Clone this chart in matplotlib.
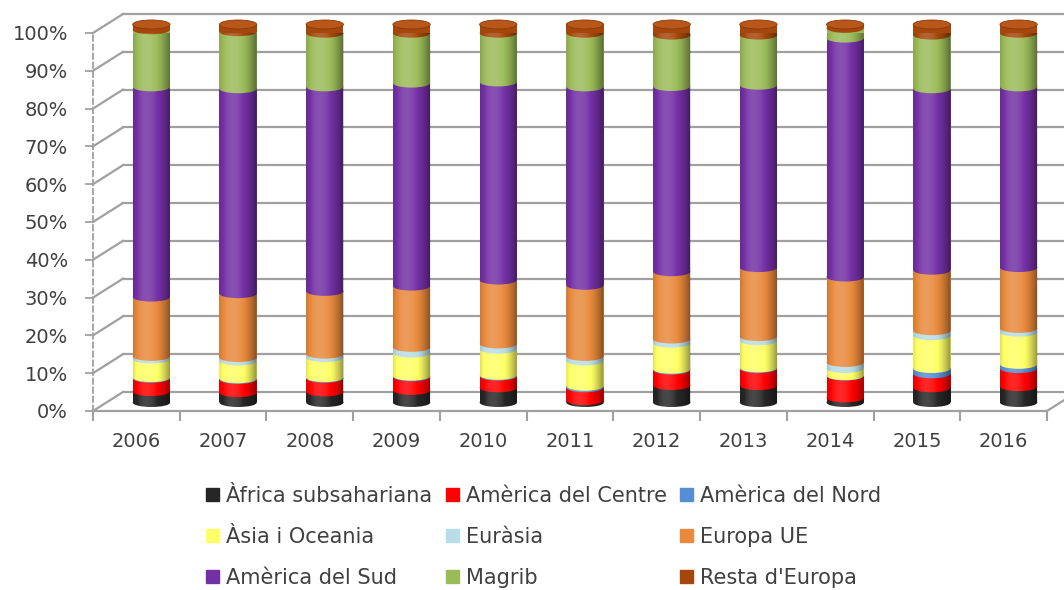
import matplotlib
matplotlib.use("Agg")
import matplotlib.pyplot as plt
import numpy as np
from matplotlib import transforms
from matplotlib.patches import Ellipse, Patch
from matplotlib.path import Path

years = ["2006", "2007", "2008", "2009", "2010", "2011",
         "2012", "2013", "2014", "2015", "2016"]

series = ["Àfrica subsahariana", "Amèrica del Centre", "Amèrica del Nord",
          "Àsia i Oceania", "Euràsia", "Europa UE",
          "Amèrica del Sud", "Magrib", "Resta d'Europa"]

africa = [2.9, 2.6, 2.8, 3.2, 3.9, 0.5, 4.5, 4.5, 1.2, 3.9, 4.2]
centre = [3.5, 3.5, 3.6, 3.6, 3.1, 3.4, 4.1, 4.5, 5.8, 3.7, 4.8]
nord = [0.2, 0.2, 0.2, 0.2, 0.2, 0.4, 0.2, 0.2, 0.1, 1.4, 1.1]
asia = [4.9, 4.7, 5.3, 6.1, 6.9, 6.7, 6.9, 7.2, 1.9, 8.7, 8.5]
eurasia = [0.7, 0.9, 0.9, 1.5, 1.4, 1.2, 1.1, 1.1, 1.6, 1.3, 1.0]
europa_ue = [15.7, 16.9, 16.6, 16.2, 16.9, 18.8, 17.8, 18.3, 22.6, 16.0, 16.1]
sud = [55.6, 54.2, 54.1, 53.7, 52.4, 52.5, 49.0, 48.4, 63.2, 48.0, 47.8]
magrib = [15.1, 15.1, 14.2, 13.2, 12.9, 14.2, 13.6, 13.3, 2.6, 14.2, 14.2]
resta = [1.4, 1.9, 2.3, 2.3, 2.3, 2.3, 2.8, 2.8, 1.0, 2.8, 2.3]

colors = ["#262626", "#ff0000", "#558ed5", "#ffff66", "#b7dde8",
          "#e8893c", "#7330a5", "#9bbb59", "#a5470c"]

values = np.array([africa, centre, nord, asia, eurasia, europa_ue,
                   sud, magrib, resta])
# normalise each year to 100%
values = values / values.sum(axis=0) * 100

text_color = "#404040"
grid_color = "#a0a0a0"
plt.rcParams["font.family"] = ["DejaVu Sans"]

fig = plt.figure(figsize=(10.64, 5.9), dpi=100)
ax = fig.add_axes([0.0874, 0.3034, 0.8966, 0.6407])
x = np.arange(len(years))
ax.set_xlim(-0.5, 10.5)
ax.set_ylim(0, 100)

# 3d depth: back wall offset and bar offset (in pixels)
back_tr = transforms.offset_copy(ax.transData, fig=fig, x=30, y=19, units="dots")
bar_tr = transforms.offset_copy(ax.transData, fig=fig, x=15, y=8.5, units="dots")

# walls
for v in range(0, 101, 10):
    ax.plot([-0.5, 11.2], [v, v], color=grid_color, lw=1.6,
            transform=back_tr, clip_on=False, zorder=1)
    p = ax.transData.transform((-0.5, v))
    ax.plot([p[0], p[0] + 30], [p[1], p[1] + 19], color=grid_color, lw=1.6,
            transform=None, clip_on=False, zorder=1)
p = ax.transData.transform((10.5, 0))
ax.plot([p[0], p[0] + 30], [p[1], p[1] + 19], color=grid_color, lw=1.6,
        transform=None, clip_on=False, zorder=1)

# cylinders
width = 0.43
eh = 9 / 3.78  # ellipse height in data units
bottom = np.zeros(len(years))
for k, name in enumerate(series):
    ax.bar(x, values[k], width=width, bottom=bottom, color=colors[k],
           linewidth=0, transform=bar_tr, zorder=3 + k, clip_on=False)
    for i in range(len(years)):
        ax.add_patch(Ellipse((x[i], bottom[i]), width, eh, color=colors[k],
                             lw=0, transform=bar_tr, zorder=3 + k,
                             clip_on=False))
    bottom += values[k]

# side shading
t = np.linspace(0, 1, 80)
s = np.where(t < 0.35, 0.35 - 2.0 * (0.35 - t) ** 2 / 0.35 ** 2 * 0.35,
             0.35 - 1.6 * (t - 0.35) ** 2 / 0.65 ** 2)
shade = np.zeros((1, len(t), 4))
shade[0, :, :3] = np.where(s[:, None] > 0, 1.0, 0.0)
shade[0, :, 3] = np.where(s > 0, s * 0.45, -s * 0.35)
theta = np.linspace(np.pi, 2 * np.pi, 40)
for i in range(len(years)):
    x0, x1 = x[i] - width / 2, x[i] + width / 2
    lower = np.column_stack([x[i] + width / 2 * np.cos(theta),
                             eh / 2 * np.sin(theta)])
    upper = np.column_stack([x[i] + width / 2 * np.cos(theta - np.pi),
                             100 + eh / 2 * np.sin(theta - np.pi)])
    outline = np.vstack([[[x0, 100]], lower, upper, [[x0, 100]]])
    im = ax.imshow(shade, extent=[x0, x1, -eh, 100 + eh], aspect="auto",
                   transform=bar_tr, zorder=15, interpolation="bilinear")
    im.set_clip_path(Path(outline), bar_tr)
    ax.add_patch(Ellipse((x[i], 100), width, eh, facecolor="#b9571a",
                         edgecolor="#8a3a08", lw=0.6, transform=bar_tr,
                         zorder=16, clip_on=False))

ax.set_xlim(-0.5, 10.5)
ax.set_ylim(0, 100)

# axes
for side in ["top", "right"]:
    ax.spines[side].set_visible(False)
ax.spines["left"].set_linestyle((0, (3, 2)))
ax.spines["left"].set_color(grid_color)
ax.spines["left"].set_linewidth(1.3)
ax.spines["bottom"].set_color(grid_color)
ax.spines["bottom"].set_linewidth(1.6)

ax.set_yticks(range(0, 101, 10))
ax.set_yticklabels([f"{v}%" for v in range(0, 101, 10)])
ax.tick_params(axis="y", length=6, color=grid_color, width=1.3,
               labelsize=14, labelcolor=text_color, pad=12)
ax.set_xticks(x)
ax.set_xticklabels(years)
ax.set_xticks(np.arange(-0.5, 11, 1), minor=True)
ax.tick_params(axis="x", which="major", length=0, labelsize=14,
               labelcolor=text_color, pad=15)
ax.tick_params(axis="x", which="minor", length=7, color=grid_color, width=1.5)

# legend, filled row by row
handles = [Patch(color=c) for c in colors]
order = [0, 3, 6, 1, 4, 7, 2, 5, 8]
fig.legend([handles[i] for i in order], [series[i] for i in order],
           ncol=3, loc="center", bbox_to_anchor=(0.511, 0.09),
           frameon=False, fontsize=15, labelcolor=text_color,
           handlelength=0.62, handleheight=0.62, handletextpad=0.33,
           columnspacing=0.65, labelspacing=1.0)

fig.savefig("out.png", dpi=100)
